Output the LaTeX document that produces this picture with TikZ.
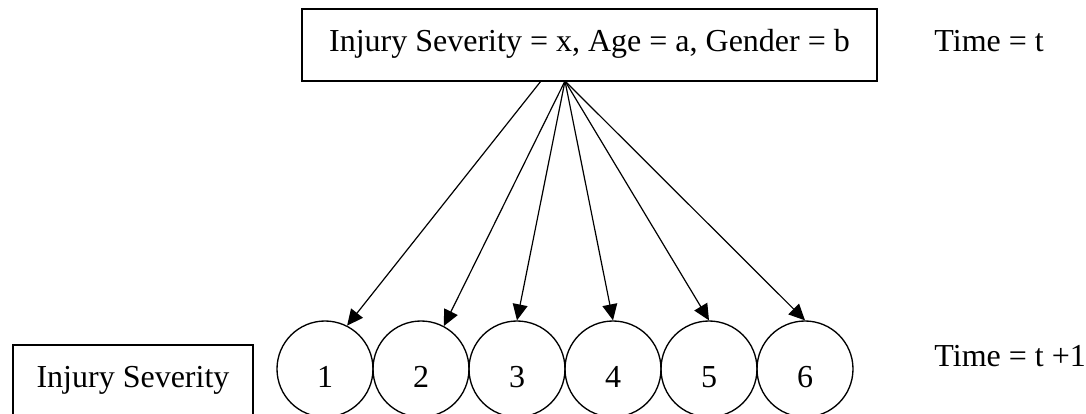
\documentclass[tikz,border=0pt]{standalone}
\usepackage{fontspec}
\setmainfont{Liberation Serif}
\usetikzlibrary{arrows.meta,positioning}
\tikzset{arrows={-{Triangle[length=6pt,width=5.6pt]}}}
\tikzset{
  infobox/.style={draw, rectangle, line width=0.75pt, inner xsep=0pt, inner ysep=0pt,
    text height=15.75pt, text depth=11.25pt},
  level/.style={draw, circle, line width=0.5pt, inner sep=0pt, minimum size=36pt,
    text height=13.5pt, text depth=0pt}
}

\begin{document}
\begin{tikzpicture}[x=0.375pt, y=-0.375pt, node distance=36pt, line width=0.45pt,
    font=\fontsize{12}{14}\selectfont]
    \clip (0,0) rectangle (1086,414);

    \node[infobox, minimum width=215.6pt] (state) at (589.5,45) {Injury Severity = x, Age = a, Gender = b};
    \node[anchor=base west] (tnow) at (925,51) {Time = t};

    \node[infobox, minimum width=90pt] (sev) at (133,381) {Injury Severity};
    \node[level] (c1) at (325,369) {1};
    \node[level] (c2) [right of=c1] {2};
    \node[level] (c3) [right of=c2] {3};
    \node[level] (c4) [right of=c3] {4};
    \node[level] (c5) [right of=c4] {5};
    \node[level] (c6) [right of=c5] {6};
    \node[anchor=base west] (tnext) at (925,366) {Time = t +1};

    \coordinate (src) at (541,81);
    \coordinate (fan) at (565,81);
    \path (src) edge (c1.63)
          (fan) edge (c2.62)
          (fan) edge (c3.north)
          (fan) edge (c4.north)
          (fan) edge (c5.north)
          (fan) edge (c6.north);
\end{tikzpicture}
\end{document}
